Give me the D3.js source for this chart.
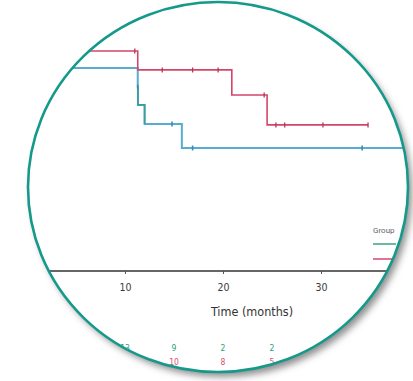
<!DOCTYPE html>
<html><head><meta charset="utf-8">
<script src="https://cdn.jsdelivr.net/npm/d3@7"></script>
<style>html,body{margin:0;padding:0;background:#fff;overflow:hidden}</style>
</head><body>
<script>
// ---- data ----
const redSteps = [ // [time, survival]
  [0, 1.0], [11.3, 0.914], [20.9, 0.80], [24.5, 0.664], [34.8, 0.664]
];
const redCensor = [11.0, 13.8, 16.9, 19.5, 24.2, 25.4, 26.3, 30.2, 34.8];
const blueSteps = [
  [0, 0.923], [11.3, 0.836], [11.32, 0.755], [12.0, 0.668], [15.8, 0.559], [40, 0.559]
];
const blueCensor = [[11.3, 0.836], [14.8, 0.668], [16.9, 0.559], [34.2, 0.559]];
const xTicks = [10, 20, 30];
const riskTimes = [10, 15, 20, 25];
const riskGreen = [13, 9, 2, 2];
const riskRed = [null, 10, 8, 5];
const legendTitle = "Group";
const xTitle = "Time (months)";

const W = 413, H = 381;
const svg = d3.select("body").append("svg").attr("width", W).attr("height", H);
const defs = svg.append("defs");
const cx = 218, cy = 187, rx = 190, ry = 185;

defs.append("clipPath").attr("id", "clip")
  .append("ellipse").attr("cx", cx).attr("cy", cy).attr("rx", rx).attr("ry", ry);
const f = defs.append("filter").attr("id", "blur").attr("x", "-20%").attr("y", "-20%").attr("width", "140%").attr("height", "140%");
f.append("feGaussianBlur").attr("stdDeviation", 3.5);

// shadow
svg.append("ellipse").attr("cx", cx + 4).attr("cy", cy + 5).attr("rx", rx).attr("ry", ry)
  .attr("fill", "#8f8f8f").attr("filter", "url(#blur)");
svg.append("ellipse").attr("cx", cx).attr("cy", cy).attr("rx", rx).attr("ry", ry).attr("fill", "#fff");

const g = svg.append("g").attr("clip-path", "url(#clip)");

const x = d3.scaleLinear().domain([0, 10]).range([27, 125]);
const y = d3.scaleLinear().domain([0, 1]).range([271, 51]);

// axis
const axis = d3.axisBottom(x).tickValues(xTicks).tickSize(3).tickPadding(10);
const ag = g.append("g").attr("transform", `translate(0,${y(0)})`).call(axis);
ag.select(".domain").attr("d", `M${x(-5)},0H${x(45)}`).attr("stroke", "#333").attr("stroke-width", 1.3);
ag.selectAll(".tick line").attr("stroke", "#555");
ag.selectAll(".tick text").attr("fill", "#3a3a3a").attr("font-size", 10.5)
  .attr("font-family", "'DejaVu Sans Condensed', 'DejaVu Sans', sans-serif");

g.append("text").attr("x", 252).attr("y", 316).attr("text-anchor", "middle")
  .attr("font-family", "'DejaVu Sans Condensed', 'DejaVu Sans', sans-serif")
  .attr("font-size", 12.5).attr("fill", "#333").text(xTitle);

// curves
const line = d3.line().x(d => x(d[0])).y(d => y(d[1])).curve(d3.curveStepAfter);
const redC = "#d4456c", blueC = "#58acce";
const redStart = [[-3, redSteps[0][1]], ...redSteps];
const blueStart = [[-3, blueSteps[0][1]], ...blueSteps];
g.append("path").attr("d", line(blueStart)).attr("fill", "none").attr("stroke", blueC).attr("stroke-width", 2);
// greenish vertical drop segment
g.append("path").attr("d", line(blueSteps.slice(1, 4))).attr("fill", "none").attr("stroke", "#3b9d9a").attr("stroke-width", 1.6);
g.append("path").attr("d", line(redStart)).attr("fill", "none").attr("stroke", redC).attr("stroke-width", 1.6);

const survAt = (steps, t) => { let v = steps[0][1]; for (const s of steps) if (s[0] <= t) v = s[1]; return v; };
g.selectAll(".rc").data(redCensor).join("line")
  .attr("x1", d => x(d)).attr("x2", d => x(d))
  .attr("y1", d => y(survAt(redSteps, d)) - 2.5).attr("y2", d => y(survAt(redSteps, d)) + 2.5)
  .attr("stroke", "#b8364f").attr("stroke-width", 1.3);
g.selectAll(".bc").data(blueCensor).join("line")
  .attr("x1", d => x(d[0])).attr("x2", d => x(d[0]))
  .attr("y1", d => y(d[1]) - 2.5).attr("y2", d => y(d[1]) + 2.5)
  .attr("stroke", "#3b8fb0").attr("stroke-width", 1.6);

// legend
g.append("text").attr("x", 373).attr("y", 233).attr("font-size", 8).attr("fill", "#666")
  .attr("font-family", "Roboto, sans-serif").text(legendTitle);
g.append("line").attr("x1", 373).attr("x2", 396).attr("y1", 244).attr("y2", 244).attr("stroke", "#3aa57f").attr("stroke-width", 1.6);
g.append("line").attr("x1", 373).attr("x2", 396).attr("y1", 259).attr("y2", 259).attr("stroke", redC).attr("stroke-width", 1.6);

// number at risk
const rows = [{vals: riskGreen, color: "#2e9e7e", yy: 351}, {vals: riskRed, color: "#d9506e", yy: 365}];
rows.forEach(r => {
  g.selectAll(null).data(riskTimes.map((t, i) => [t, r.vals[i]]).filter(d => d[1] != null)).join("text")
    .attr("x", d => x(d[0])).attr("y", r.yy).attr("text-anchor", "middle")
    .attr("font-size", 8.5).attr("font-family", "'DejaVu Sans Condensed', sans-serif").attr("fill", r.color)
    .text(d => d[1]);
});

// teal border
svg.append("ellipse").attr("cx", cx).attr("cy", cy).attr("rx", rx).attr("ry", ry)
  .attr("fill", "none").attr("stroke", "#14998b").attr("stroke-width", 2.6);
</script>
</body></html>
